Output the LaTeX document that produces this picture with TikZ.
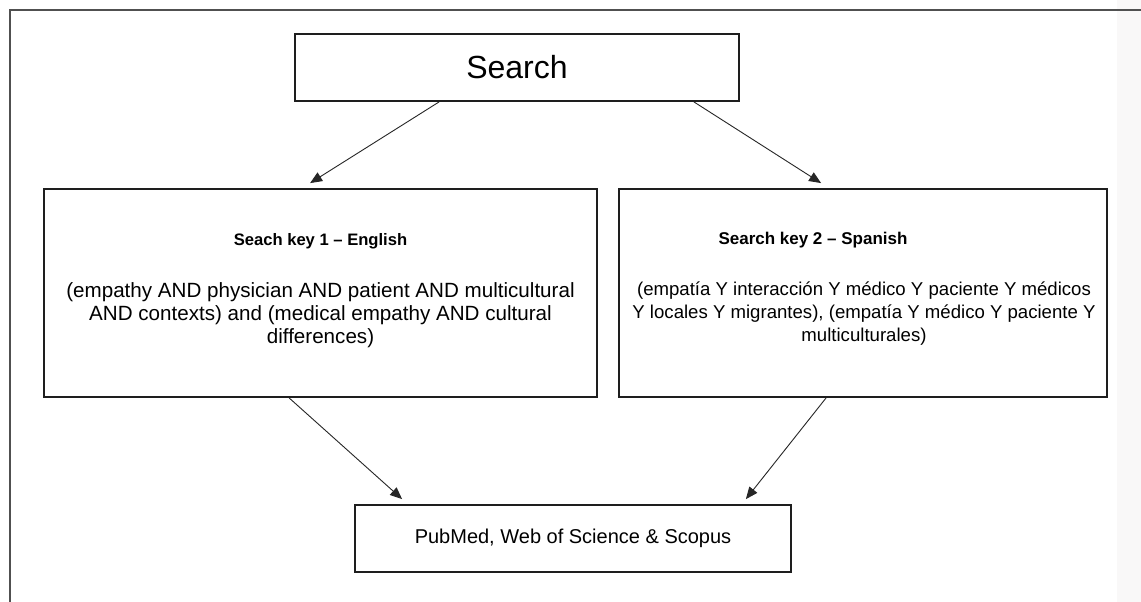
\documentclass[tikz,border=0pt]{standalone}
\usepackage{fontspec}
\setmainfont{Liberation Sans}
\usetikzlibrary{arrows.meta}
\definecolor{boxline}{HTML}{1E1E1E}
\definecolor{frameline}{HTML}{505050}
\definecolor{band}{HTML}{F9F8F8}
\tikzset{
  box/.style={draw=boxline, line width=1.8pt, inner sep=0pt, fill=white},
  arr/.style={draw=black!85, line width=0.9pt, -{Triangle[length=12pt,width=10pt]}},
  bodytext/.style={align=center, inner sep=0pt, font=\fontsize{20}{23}\selectfont},
  headtext/.style={inner sep=0pt, font=\fontsize{16.6}{19}\selectfont\bfseries},
}
\begin{document}
\begin{tikzpicture}[x=1pt,y=-1pt]
\useasboundingbox (0,0) rectangle (1141,602);
\fill[white] (0,0) rectangle (1141,602);
\fill[band] (1117,0) rectangle (1141,602);
\draw[frameline, line width=1.5pt] (10,602) -- (10,10) -- (1141,10);

\node[box, minimum width=444pt, minimum height=67pt, font=\fontsize{32}{36}\selectfont] (search) at (517,67.5) {Search};
\node[box, minimum width=553pt, minimum height=208pt] (left) at (320.5,293) {};
\node[box, minimum width=488pt, minimum height=208pt] (right) at (863,293) {};
\node[box, minimum width=436pt, minimum height=67pt, bodytext] (bottom) at (573,538.5) {PubMed, Web of Science \& Scopus};

\node[headtext] (lhead) at (320.5,241) {Seach key 1 – English};
\node[bodytext, font=\fontsize{20.6}{23}\selectfont] (lbody) at (320.5,315) {(empathy AND physician AND patient AND multicultural\\AND contexts) and (medical empathy AND cultural\\differences)};
\node[headtext, font=\fontsize{17}{19}\selectfont\bfseries] (rhead) at (813,240) {Search key 2 – Spanish};
\node[bodytext, font=\fontsize{18.6}{23}\selectfont] (rbody) at (864,314) {(empatía Y interacción Y médico Y paciente Y médicos\\Y locales Y migrantes), (empatía Y médico Y paciente Y\\multiculturales)};

\draw[arr] ([xshift=145pt]search.south west) -- ([xshift=267pt,yshift=5pt]left.north west);
\draw[arr] ([xshift=-46pt]search.south east) -- ([xshift=203pt,yshift=5pt]right.north west);
\draw[arr] ([xshift=246pt]left.south west) -- ([xshift=48pt,yshift=5pt]bottom.north west);
\draw[arr] ([xshift=208pt]right.south west) -- ([xshift=-46pt,yshift=5pt]bottom.north east);
\end{tikzpicture}
\end{document}
